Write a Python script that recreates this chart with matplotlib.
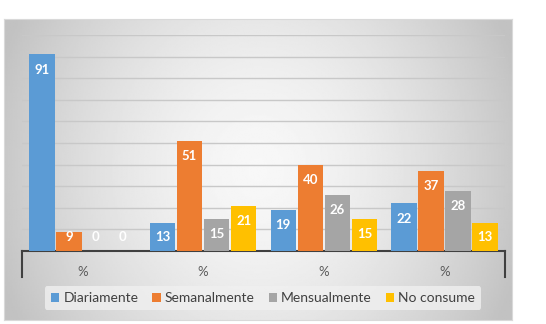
import numpy as np
import matplotlib.pyplot as plt

# datos
categorias = ['%', '%', '%', '%']
series = ['Diariamente', 'Semanalmente', 'Mensualmente', 'No consume']
diariamente = [91, 13, 19, 22]
semanalmente = [9, 51, 40, 37]
mensualmente = [0, 15, 26, 28]
no_consume = [0, 21, 15, 13]
colores = ['#5B9BD5', '#ED7D31', '#A5A5A5', '#FFC000']

plt.rcParams['font.family'] = ['Lato', 'DejaVu Sans']

W, H = 546, 324
fig = plt.figure(figsize=(W/100, H/100), dpi=100)
fig.patch.set_facecolor('white')

# fondo con degradado del grafico
bg = fig.add_axes([4/W, 4/H, 508/W, 301/H])
yy, xx = np.mgrid[-1:1:200j, -1:1:300j]
r = np.sqrt(xx**2 * 0.9 + yy**2 * 0.25)
g = np.clip(0.97 - 0.2 * r**1.6, 0.76, 0.97)
bg.imshow(g, cmap='gray', vmin=0, vmax=1, aspect='auto', extent=[0, 1, 0, 1])
bg.set_xticks([])
bg.set_yticks([])
for s in bg.spines.values():
    s.set_color('#d9d9d9')

ax = fig.add_axes([22/W, (H-251)/H, 483/W, 216/H])
ax.patch.set_alpha(0)
x = np.arange(len(categorias))
paso = 0.224
valores = [diariamente, semanalmente, mensualmente, no_consume]
for i, (vals, nombre) in enumerate(zip(valores, series)):
    pos = x + (i - 1.5) * paso
    ax.bar(pos, vals, 0.212, color=colores[i], label=nombre, zorder=3)
    for p, v in zip(pos, vals):
        ax.text(p, max(v - 7, 6.5), str(v), ha='center', va='center',
                color='white', fontsize=9.5, fontweight='bold', zorder=4)

ax.set_ylim(0, 100)
ax.set_xlim(-0.5, 3.5)
ax.set_yticks(np.arange(10, 101, 10))
ax.set_yticklabels([])
ax.tick_params(axis='y', length=0)
ax.grid(axis='y', color='#c8c8c8', lw=1, zorder=0)
ax.set_xticks(x)
ax.set_xticklabels(categorias, color='#595959', fontsize=9.5)
ax.tick_params(axis='x', length=0, pad=11)
for s in ['top', 'left', 'right']:
    ax.spines[s].set_visible(False)
ax.spines['bottom'].set_color('#404040')
ax.spines['bottom'].set_linewidth(1.5)
ax.plot([0, 0], [0, -0.12], transform=ax.transAxes, color='#404040', lw=1.5, clip_on=False)
ax.plot([1, 1], [0, -0.12], transform=ax.transAxes, color='#404040', lw=1.5, clip_on=False)

leg = fig.legend(loc='center', bbox_to_anchor=(263/W, 1 - 298/H), ncol=4,
                 frameon=True, fontsize=10, handlelength=0.6, handleheight=0.6,
                 handletextpad=0.3, columnspacing=1.0, borderpad=0.45)
leg.get_frame().set_facecolor('#f0f0f0')
leg.get_frame().set_edgecolor('none')
leg.get_frame().set_alpha(0.8)
for t in leg.get_texts():
    t.set_color('#404040')

fig.savefig('out.png', dpi=100)
